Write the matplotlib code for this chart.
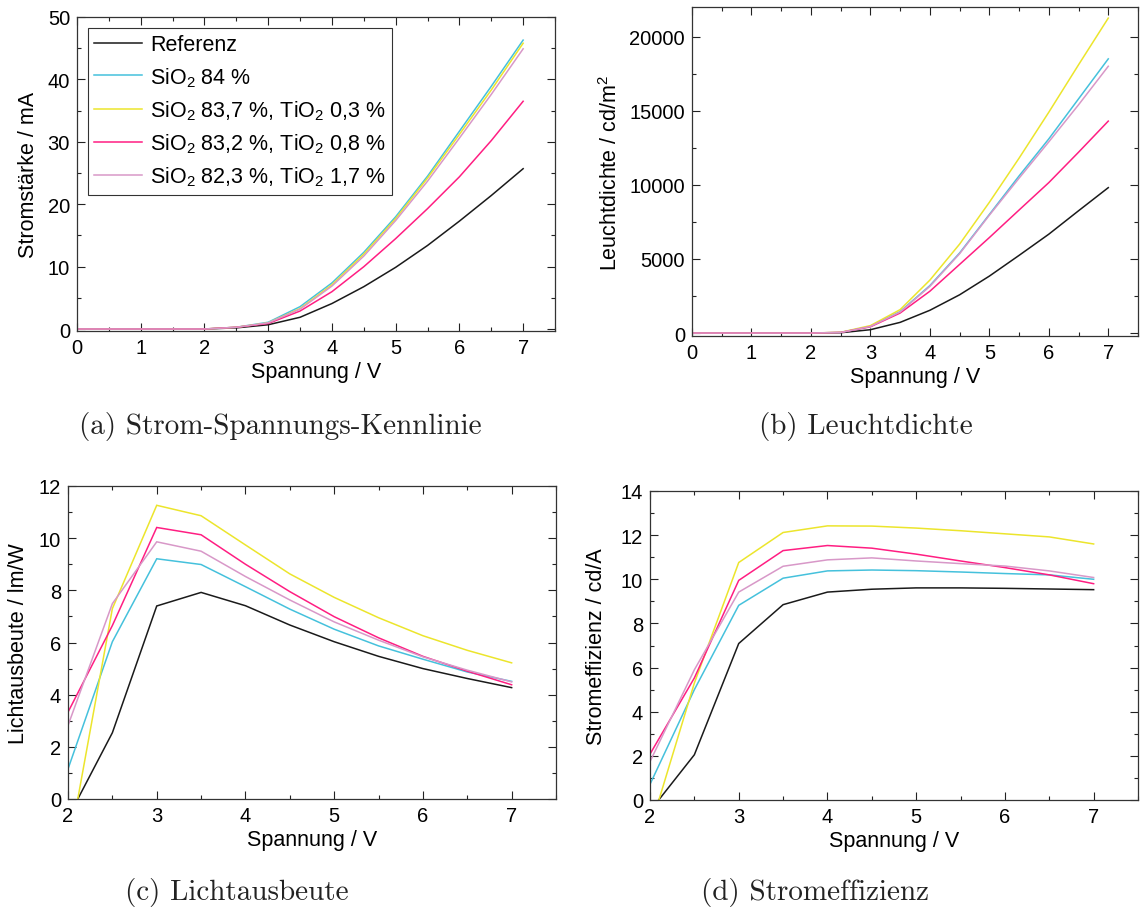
import numpy as np
import matplotlib
matplotlib.use("Agg")
import matplotlib.pyplot as plt
from matplotlib.ticker import MultipleLocator

plt.rcParams['font.family'] = ['Liberation Sans', 'DejaVu Sans']
plt.rcParams['mathtext.fontset'] = 'custom'
plt.rcParams['mathtext.rm'] = 'Liberation Sans'
plt.rcParams['mathtext.it'] = 'Liberation Sans'

# ---- data ----
labels = ['Referenz', r'SiO$_2$ 84 %', r'SiO$_2$ 83,7 %, TiO$_2$ 0,3 %',
          r'SiO$_2$ 83,2 %, TiO$_2$ 0,8 %', r'SiO$_2$ 82,3 %, TiO$_2$ 1,7 %']
colors = ['#1a1a1a', '#45c1dc', '#ece52c', '#ff1e82', '#d898c8']

u_full = [0, 0.5, 1, 1.5, 2, 2.5, 3, 3.5, 4, 4.5, 5, 5.5, 6, 6.5, 7]
u_eff = [2, 2.5, 3, 3.5, 4, 4.5, 5, 5.5, 6, 6.5, 7]

# current / mA
i_ref = [0.02, 0.02, 0.02, 0.02, 0.02, 0.2, 0.7, 1.9, 4.1, 6.8, 9.9, 13.4, 17.3, 21.4, 25.7]
i_si84 = [0.02, 0.02, 0.02, 0.02, 0.02, 0.3, 1.1, 3.6, 7.4, 12.3, 18.0, 24.5, 31.7, 38.9, 46.3]
i_ti03 = [0.02, 0.02, 0.02, 0.02, 0.02, 0.3, 1.0, 3.3, 7.1, 12.0, 17.7, 24.2, 31.2, 38.3, 45.8]
i_ti08 = [0.02, 0.02, 0.02, 0.02, 0.02, 0.3, 0.9, 2.9, 6.0, 10.0, 14.5, 19.3, 24.4, 30.2, 36.5]
i_ti17 = [0.02, 0.02, 0.02, 0.02, 0.02, 0.3, 1.0, 3.2, 6.9, 11.7, 17.4, 23.7, 30.6, 37.6, 44.9]

# luminance / cd/m^2
l_ref = [0, 0, 0, 0, 0, 20, 225, 720, 1535, 2580, 3840, 5240, 6670, 8250, 9810]
l_si84 = [0, 0, 0, 0, 0, 40, 450, 1450, 3200, 5400, 8000, 10600, 13100, 15800, 18500]
l_ti03 = [0, 0, 0, 0, 0, 50, 500, 1580, 3570, 6000, 8820, 11800, 14900, 18100, 21250]
l_ti08 = [0, 0, 0, 0, 0, 40, 420, 1350, 2820, 4630, 6440, 8300, 10150, 12200, 14300]
l_ti17 = [0, 0, 0, 0, 0, 40, 440, 1420, 3150, 5350, 7950, 10450, 12900, 15400, 18000]

# luminous efficacy / lm/W
e_ref = [-0.72, 2.54, 7.40, 7.92, 7.41, 6.67, 6.03, 5.47, 5.00, 4.62, 4.27]
e_si84 = [1.15, 6.03, 9.21, 8.99, 8.14, 7.28, 6.51, 5.87, 5.36, 4.87, 4.51]
e_ti03 = [-2.06, 7.30, 11.26, 10.86, 9.74, 8.63, 7.73, 6.95, 6.26, 5.70, 5.22]
e_ti08 = [3.33, 6.65, 10.41, 10.13, 9.00, 7.95, 6.99, 6.18, 5.47, 4.90, 4.38]
e_ti17 = [2.82, 7.49, 9.86, 9.50, 8.53, 7.63, 6.79, 6.09, 5.45, 4.94, 4.49]

# current efficiency / cd/A
c_ref = [-0.50, 2.05, 7.09, 8.85, 9.42, 9.55, 9.61, 9.61, 9.59, 9.56, 9.53]
c_si84 = [0.71, 5.00, 8.82, 10.05, 10.38, 10.42, 10.39, 10.33, 10.26, 10.20, 10.00]
c_ti03 = [-1.33, 5.30, 10.76, 12.12, 12.42, 12.41, 12.32, 12.20, 12.06, 11.92, 11.60]
c_ti08 = [2.08, 5.53, 9.95, 11.30, 11.53, 11.41, 11.14, 10.83, 10.53, 10.20, 9.80]
c_ti17 = [1.74, 5.90, 9.42, 10.59, 10.88, 10.97, 10.83, 10.71, 10.60, 10.38, 10.08]

W, H = 1140, 912
fig = plt.figure(figsize=(W / 100, H / 100), dpi=100)


def make_axes(l, r, t, b):
    return fig.add_axes([l / W, 1 - b / H, (r - l) / W, (b - t) / H])


FS = 14.5
LFS = 15.5


def style(ax, xmaj, xmin, ymaj, ymin):
    ax.xaxis.set_major_locator(MultipleLocator(xmaj))
    ax.xaxis.set_minor_locator(MultipleLocator(xmin))
    ax.yaxis.set_major_locator(MultipleLocator(ymaj))
    ax.yaxis.set_minor_locator(MultipleLocator(ymin))
    ax.tick_params(which='both', direction='in', top=True, right=True,
                   labelsize=FS, width=0.8, color='#222222')
    ax.tick_params(which='major', length=6, pad=5)
    ax.tick_params(which='minor', length=3)
    for s in ax.spines.values():
        s.set_linewidth(0.9)
        s.set_color('#333333')
    ax.set_xlabel('Spannung / V', fontsize=LFS, labelpad=3)


def plot_series(ax, x, series):
    for y, c, lab in zip(series, colors, labels):
        ax.plot(x, y, color=c, lw=1.1, label=lab, solid_joinstyle='miter')


# (a) current-voltage
ax1 = make_axes(77, 555, 18, 332)
plot_series(ax1, u_full, [i_ref, i_si84, i_ti03, i_ti08, i_ti17])
ax1.set_xlim(0, 7.5)
ax1.set_ylim(-0.3, 50)
style(ax1, 1, 0.5, 10, 5)
ax1.set_ylabel('Stromstärke / mA', fontsize=LFS, labelpad=6)
leg = ax1.legend(loc='upper left', fontsize=LFS, frameon=True, fancybox=False,
                 edgecolor='black', handlelength=2.2, handletextpad=0.4,
                 borderaxespad=0.5, labelspacing=0.45, borderpad=0.3)
leg.get_frame().set_linewidth(0.8)

# (b) luminance
ax2 = make_axes(692, 1138, 8, 337)
plot_series(ax2, u_full, [l_ref, l_si84, l_ti03, l_ti08, l_ti17])
ax2.set_xlim(0, 7.5)
ax2.set_ylim(-200, 22000)
style(ax2, 1, 0.5, 5000, 2500)
ax2.set_ylabel('Leuchtdichte / cd/m$^2$', fontsize=LFS, labelpad=5)

# (c) luminous efficacy
ax3 = make_axes(68, 556, 487, 800)
plot_series(ax3, u_eff, [e_ref, e_si84, e_ti03, e_ti08, e_ti17])
ax3.set_xlim(2, 7.5)
ax3.set_ylim(0, 12)
style(ax3, 1, 0.5, 2, 1)
ax3.set_ylabel('Lichtausbeute / lm/W', fontsize=LFS, labelpad=7)

# (d) current efficiency
ax4 = make_axes(650, 1138, 492, 801)
plot_series(ax4, u_eff, [c_ref, c_si84, c_ti03, c_ti08, c_ti17])
ax4.set_xlim(2, 7.5)
ax4.set_ylim(0, 14)
style(ax4, 1, 0.5, 2, 1)
ax4.set_ylabel('Stromeffizienz / cd/A', fontsize=LFS, labelpad=10)

# subfigure captions
cap_kw = dict(fontsize=21, family='cmr10', ha='center', va='center', color='#222222')
fig.text(280 / W, 1 - 427 / H, '(a) Strom-Spannungs-Kennlinie', **cap_kw)
fig.text(866 / W, 1 - 427 / H, '(b) Leuchtdichte', **cap_kw)
fig.text(237 / W, 1 - 893 / H, '(c) Lichtausbeute', **cap_kw)
fig.text(815 / W, 1 - 893 / H, '(d) Stromeffizienz', **cap_kw)

fig.savefig('out.png', dpi=100)
